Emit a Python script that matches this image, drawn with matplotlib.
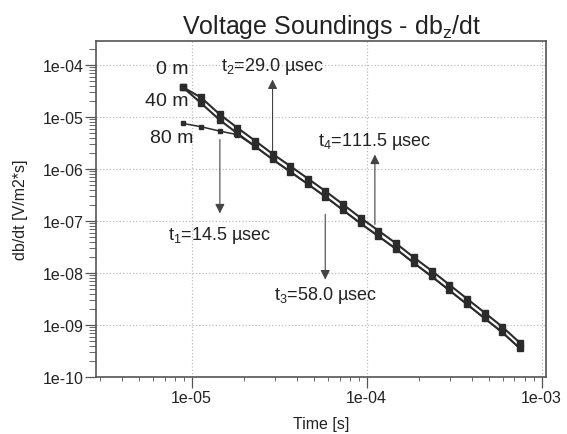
import matplotlib
matplotlib.use("Agg")
from matplotlib import pyplot as plt
from matplotlib.ticker import FixedLocator, LogLocator, FuncFormatter, NullFormatter
import numpy as np

plt.rcParams['font.family'] = ['Liberation Sans', 'DejaVu Sans']
plt.rcParams['mathtext.fontset'] = 'custom'
plt.rcParams['mathtext.rm'] = 'Liberation Sans'
plt.rcParams['mathtext.it'] = 'Liberation Sans'

# gate times in microseconds
times_us = [8.9, 11.3, 14.5, 18.2, 23.0, 29.0, 36.6, 46.2, 58.0, 73.3,
            92.4, 116.6, 147, 186, 235, 296, 374, 472, 596, 752]

# db/dt responses for the three depths [V/m2*s]
dbdt_0m = [3.75e-5, 2.38e-5, 1.12e-5, 6.25e-6, 3.51e-6, 1.96e-6, 1.14e-6,
           6.54e-7, 3.78e-7, 2.09e-7, 1.15e-7, 6.57e-8, 3.73e-8, 2.00e-8,
           1.11e-8, 6.01e-9, 3.22e-9, 1.73e-9, 9.25e-10, 4.54e-10]
dbdt_40m = [3.75e-5, 1.86e-5, 8.73e-6, 4.89e-6, 2.75e-6, 1.54e-6, 8.89e-7,
            5.12e-7, 2.96e-7, 1.63e-7, 9.00e-8, 5.13e-8, 2.92e-8, 1.57e-8,
            8.65e-9, 4.70e-9, 2.52e-9, 1.35e-9, 7.24e-10, 3.55e-10]
dbdt_80m = [7.55e-6, 6.52e-6, 5.36e-6, 4.60e-6, 2.73e-6, 1.53e-6, 8.85e-7,
            5.10e-7, 2.95e-7, 1.62e-7, 8.97e-8, 5.11e-8, 2.91e-8, 1.56e-8,
            8.62e-9, 4.68e-9, 2.51e-9, 1.34e-9, 7.22e-10, 3.54e-10]

depth_labels = ['0 m', '40 m', '80 m']

x_ticks = [1e-5, 1e-4, 1e-3]
y_ticks = [1e-10, 1e-9, 1e-8, 1e-7, 1e-6, 1e-5, 1e-4]

# picked time gates: (label, time in us, arrow tail, arrow head, text y)
gates = [
    (r't$_1$=14.5 µsec', 14.5, 3.7e-6, 1.4e-7, 5.5e-8),
    (r't$_2$=29.0 µsec', 29.0, 1.4e-6, 5.3e-5, 1.0e-4),
    (r't$_3$=58.0 µsec', 58.0, 1.35e-7, 7.5e-9, 3.8e-9),
    (r't$_4$=111.5 µsec', 111.5, 8.6e-8, 1.9e-6, 3.6e-6),
]

t = np.array(times_us) * 1e-6
line_col = '#2b2b2b'

fig = plt.figure(figsize=(5.67, 4.35), dpi=100)
ax = fig.add_axes([0.1693, 0.131, 0.7937, 0.7724])

ax.plot(t, dbdt_0m, color=line_col, lw=1.5, marker='s', ms=4.0, zorder=4)
ax.plot(t, dbdt_40m, color=line_col, lw=1.5, marker='s', ms=4.0, zorder=4)
ax.plot(t, dbdt_80m, color=line_col, lw=1.1, marker='s', ms=3.0, zorder=3)

ax.set_xscale('log')
ax.set_yscale('log')
ax.set_xlim(2.84e-6, 1.06e-3)
ax.set_ylim(1e-10, 2.9e-4)

ax.xaxis.set_major_locator(FixedLocator(x_ticks))
ax.yaxis.set_major_locator(FixedLocator(y_ticks))
ax.xaxis.set_minor_locator(LogLocator(base=10, subs=np.arange(2, 10), numticks=12))
ax.yaxis.set_minor_locator(LogLocator(base=10, subs=np.arange(2, 10), numticks=12))
fmt = FuncFormatter(lambda v, pos: f"{v:.0e}")
ax.xaxis.set_major_formatter(fmt)
ax.yaxis.set_major_formatter(fmt)
ax.xaxis.set_minor_formatter(NullFormatter())
ax.yaxis.set_minor_formatter(NullFormatter())

ax.tick_params(which='major', direction='out', length=8, width=0.9,
               color='#555555', labelsize=11.5, labelcolor='#222222', pad=1)
ax.tick_params(axis='y', which='minor', direction='out', length=5, width=0.7, color='#666666')
ax.tick_params(axis='x', which='minor', direction='out', length=3, width=0.7, color='#666666')

ax.grid(True, which='major', color='#bdbdbd', linestyle=':', linewidth=0.9)
for side in ax.spines.values():
    side.set_color('#555555')
    side.set_linewidth(1.2)

ax.set_xlabel('Time [s]', fontsize=11.5, color='#222222')
ax.set_ylabel('db/dt [V/m2*s]', fontsize=11.5, color='#222222')
ax.xaxis.set_label_coords(0.5, -0.115)
ax.yaxis.set_label_coords(-0.15, 0.5)

fig.text(0.585, 0.937, r'Voltage Soundings - db$_\mathrm{z}$/dt', fontsize=18,
         ha='center', va='center', color='#222222')

# depth labels next to the start of each curve
label_pos = [(9.65e-6, 8.4e-5), (9.65e-6, 2.05e-5), (1.02e-5, 4.0e-6)]
for lab, (lx, ly) in zip(depth_labels, label_pos):
    ax.text(lx, ly, lab, fontsize=14, ha='right', va='center', color='#222222')

for lab, tg, y0, y1, ty in gates:
    x = tg * 1e-6
    ax.annotate('', xy=(x, y1), xytext=(x, y0),
                arrowprops=dict(arrowstyle='-|>', color='#444444', lw=0.8,
                                mutation_scale=14, shrinkA=0, shrinkB=0))
    ax.text(x, ty, lab, fontsize=13, ha='center', va='center', color='#222222')

fig.savefig('out.png', dpi=100)
